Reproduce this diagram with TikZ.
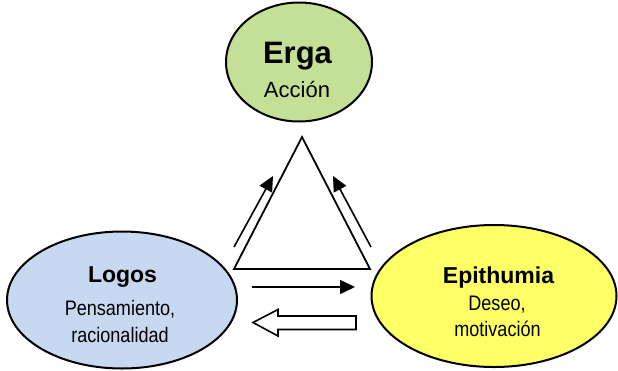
\documentclass[tikz,border=0pt]{standalone}
\usepackage{fontspec}
\setmainfont{Liberation Sans}
\newfontfamily\narrowfont{Liberation Sans}[FakeStretch=0.86]
\usetikzlibrary{shapes.geometric, arrows.meta}

\definecolor{ergagreen}{RGB}{195,224,150}
\definecolor{logosblue}{RGB}{198,217,240}
\definecolor{epiyellow}{RGB}{255,255,102}

\tikzset{
    bubble/.style={ellipse, draw=black, line width=2pt, inner sep=0pt},
    title/.style={anchor=base, inner sep=0pt, font=\bfseries\fontsize{23}{27}\selectfont},
    sub/.style={anchor=base, inner sep=0pt, font=\narrowfont\fontsize{21}{27}\selectfont},
    flow/.style={line width=1.6pt, -{Triangle[length=15pt,width=14pt]}}
}

\begin{document}
\begin{tikzpicture}[x=1pt, y=-1pt]
            \useasboundingbox (0,0) rectangle (618,370);
            % the three ellipses
            \node[bubble, fill=ergagreen, minimum width=146pt, minimum height=119pt] (erga) at (299,62) {};
            \node[bubble, fill=logosblue, minimum width=230pt, minimum height=137pt] (logos) at (122,300) {};
            \node[bubble, fill=epiyellow, minimum width=245pt, minimum height=142pt] (epithumia) at (494,296) {};
            % texts
            \node[title, font=\bfseries\fontsize{31}{34}\selectfont] (ergatitle) at (297.5,63) {Erga};
            \node[sub, font=\fontsize{22}{27}\selectfont] (ergasub) at (297,97) {Acción};
            \node[title] (logostitle) at (122.5,282) {Logos};
            \node[sub] (logossuba) at (120,315) {Pensamiento,};
            \node[sub] (logossubb) at (120,342) {racionalidad};
            \node[title] (epititle) at (498.5,283) {Epithumia};
            \node[sub] (episuba) at (497,310) {Deseo,};
            \node[sub] (episubb) at (497.5,336) {motivación};
            % triangle
            \coordinate (top) at (302,137);
            \coordinate (bl) at (234,269);
            \coordinate (br) at (370,269);
            \draw[line width=1.8pt, line join=miter] (top) -- (bl) -- (br) -- cycle;
            % arrows along the sides
            \coordinate (la) at (234,247);
            \coordinate (lb) at (273,176);
            \coordinate (ra) at (371,247);
            \coordinate (rb) at (333,176);
            \draw[flow] (la) -- (lb);
            \draw[flow] (ra) -- (rb);
            \coordinate (ha) at (252,287);
            \coordinate (hb) at (355,287);
            \draw[flow] (ha) -- (hb);
            % hollow arrow back
            \draw[line width=1.6pt, fill=white] (356,316) -- (278,316) -- (278,309.5) -- (253,322.5)
                -- (278,336) -- (278,329.5) -- (356,329.5) -- cycle;
        \end{tikzpicture}
\end{document}
